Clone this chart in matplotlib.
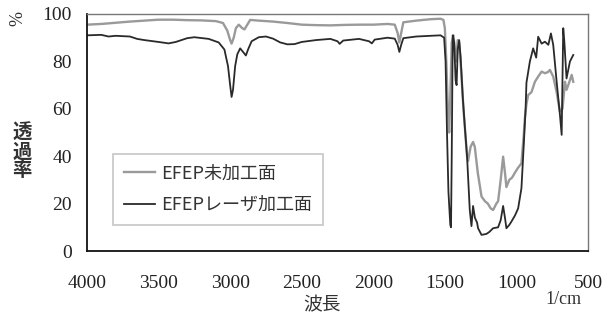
import matplotlib
matplotlib.use('Agg')
import numpy as np
from matplotlib import pyplot as plt

# EFEP untreated surface (grey curve)
raw_wn = [4000, 3900, 3800, 3700, 3600, 3500, 3400, 3300, 3200, 3100, 3050, 3020, 3000, 2990, 2975,
          2960, 2940, 2915, 2900, 2880, 2860, 2800, 2700, 2600, 2500, 2400, 2300, 2200, 2100, 2000,
          1900, 1850, 1830, 1818, 1805, 1790, 1700, 1600, 1530, 1510, 1500, 1490, 1480, 1470, 1462,
          1452, 1440, 1430, 1420, 1410, 1400, 1385, 1370, 1355, 1345, 1338, 1320, 1303, 1291, 1270,
          1244, 1220, 1200, 1180, 1163, 1140, 1128, 1110, 1093, 1080, 1070, 1050, 1030, 1011, 990,
          965, 950, 941, 930, 918, 895, 871, 848, 824, 801, 780, 766, 743, 719, 696,
          678, 661, 650, 638, 614, 603]
raw_t = [95.5, 95.8, 96.3, 96.8, 97.2, 97.6, 97.6, 97.4, 97.3, 97.0, 96.2, 93, 89, 87.5, 90,
         94, 95.5, 94, 93.5, 95.5, 97.5, 97.2, 96.8, 96.2, 95.5, 95.3, 95.2, 95.4, 95.5, 95.5,
         95.8, 95.5, 92, 88, 92, 96.5, 97.2, 97.8, 98.0, 97.5, 94, 80, 62, 50, 65,
         88, 91, 85, 80, 89, 88, 75, 60, 48, 40, 38, 44, 46, 44, 33,
         23, 21, 20, 18, 17.3, 20, 21, 30, 39.8, 33, 27, 30, 31, 33, 35,
         37, 48, 56, 62, 65.8, 67, 71.4, 73.6, 75.7, 75, 75.5, 76.4, 73.6, 67, 58.8,
         60, 71.4, 68, 70, 74.3, 71.4]

# EFEP laser-processed surface (black curve)
laser_wn = [4000, 3900, 3850, 3800, 3700, 3650, 3600, 3500, 3430, 3380, 3300, 3250, 3150, 3080, 3040,
            3015, 3000, 2990, 2980, 2965, 2950, 2930, 2910, 2890, 2875, 2850, 2800, 2750, 2700, 2650,
            2600, 2550, 2500, 2400, 2300, 2250, 2235, 2210, 2100, 2030, 2010, 1990, 1900, 1850, 1830,
            1818, 1805, 1790, 1700, 1600, 1530, 1505, 1495, 1485, 1475, 1462, 1457, 1452, 1445, 1435,
            1425, 1418, 1410, 1400, 1390, 1375, 1360, 1345, 1326, 1314, 1303, 1290, 1275, 1268, 1244,
            1210, 1190, 1163, 1128, 1110, 1093, 1080, 1070, 1050, 1035, 1010, 988, 965, 953, 946,
            936, 930, 906, 883, 862, 848, 824, 801, 777, 759, 743, 719, 696, 684, 673,
            665, 650, 626, 603]
laser_t = [91, 91.2, 90.5, 90.8, 90.5, 89.5, 89, 88.2, 87.6, 88.2, 89.8, 90.2, 89.5, 88, 85,
           78, 70, 65, 68, 78, 83, 85.5, 84, 82.5, 85, 88.5, 90.2, 90.5, 89.6, 88,
           87.2, 87.3, 88.2, 89, 89.5, 88.5, 87.4, 88.8, 89.5, 88.5, 87.6, 89.2, 90, 89.6, 87,
           84, 87, 89.8, 90.5, 90.8, 91, 90, 80, 50, 25, 11, 10, 40, 91, 88,
           72, 70, 85, 89, 82, 65, 52, 40, 17.3, 10.5, 19, 14, 12, 9.6, 6.8,
           7.2, 8, 9.6, 10, 13, 19, 14, 9.6, 11, 12.4, 15, 18, 26.5, 40, 48,
           60, 71, 80, 85.5, 81.6, 90.4, 87.5, 88.3, 87, 91.8, 87, 71.4, 57.4, 49, 94,
           88, 72.8, 80, 82.7]

x_ticks = [4000, 3500, 3000, 2500, 2000, 1500, 1000, 500]
y_ticks = [0, 20, 40, 60, 80, 100]
labels = ['EFEP未加工面', 'EFEPレーザ加工面']

plt.rcParams['font.family'] = ['Liberation Serif', 'Noto Sans CJK JP']
jp = ['Noto Sans CJK JP', 'DejaVu Sans']

fig = plt.figure(figsize=(6.16, 3.2), dpi=100)
ax = fig.add_axes([87 / 616, 69 / 320, 501 / 616, 237 / 320])

ax.plot(raw_wn, raw_t, color='#9a9a9a', lw=1.7, label=labels[0])
ax.plot(laser_wn, laser_t, color='#2a2a2a', lw=1.3, label=labels[1])

ax.set_xlim(4000, 500)
ax.set_ylim(0, 100)
ax.set_xticks(x_ticks)
ax.set_yticks(y_ticks)
ax.tick_params(axis='x', length=0, pad=17, labelsize=14, colors='#222222')
ax.tick_params(axis='y', length=0, pad=11, labelsize=14, colors='#222222')

for side in ['left', 'bottom']:
    ax.spines[side].set_color('#111111')
    ax.spines[side].set_linewidth(1.3)
for side in ['top', 'right']:
    ax.spines[side].set_color('#777777')
    ax.spines[side].set_linewidth(1.0)

leg = ax.legend(loc='lower left', bbox_to_anchor=(0.052, 0.11), prop={'family': jp, 'size': 13},
                frameon=True, fancybox=False, edgecolor='#b8b8b8', handlelength=1.7,
                handletextpad=0.35, labelspacing=0.75, borderpad=0.6, borderaxespad=0)
leg.get_frame().set_linewidth(1.2)
for t in leg.get_texts():
    t.set_color('#333333')

fig.text(22 / 616, 1 - 152 / 320, '透\n過\n率', family=jp, fontsize=14, ha='center', va='center',
         linespacing=1.0, color='#333333', weight='bold')
fig.text(18 / 616, 1 - 18 / 320, '%', fontsize=13, rotation=90, ha='center', va='center', color='#333333')
fig.text(322 / 616, 1 - 305 / 320, '波長', family=jp, fontsize=13.5, ha='center', va='center', color='#333333')
fig.text(563 / 616, 1 - 300 / 320, '1/cm', fontsize=13, ha='center', va='center', color='#333333')

fig.savefig('out.png', dpi=100)
